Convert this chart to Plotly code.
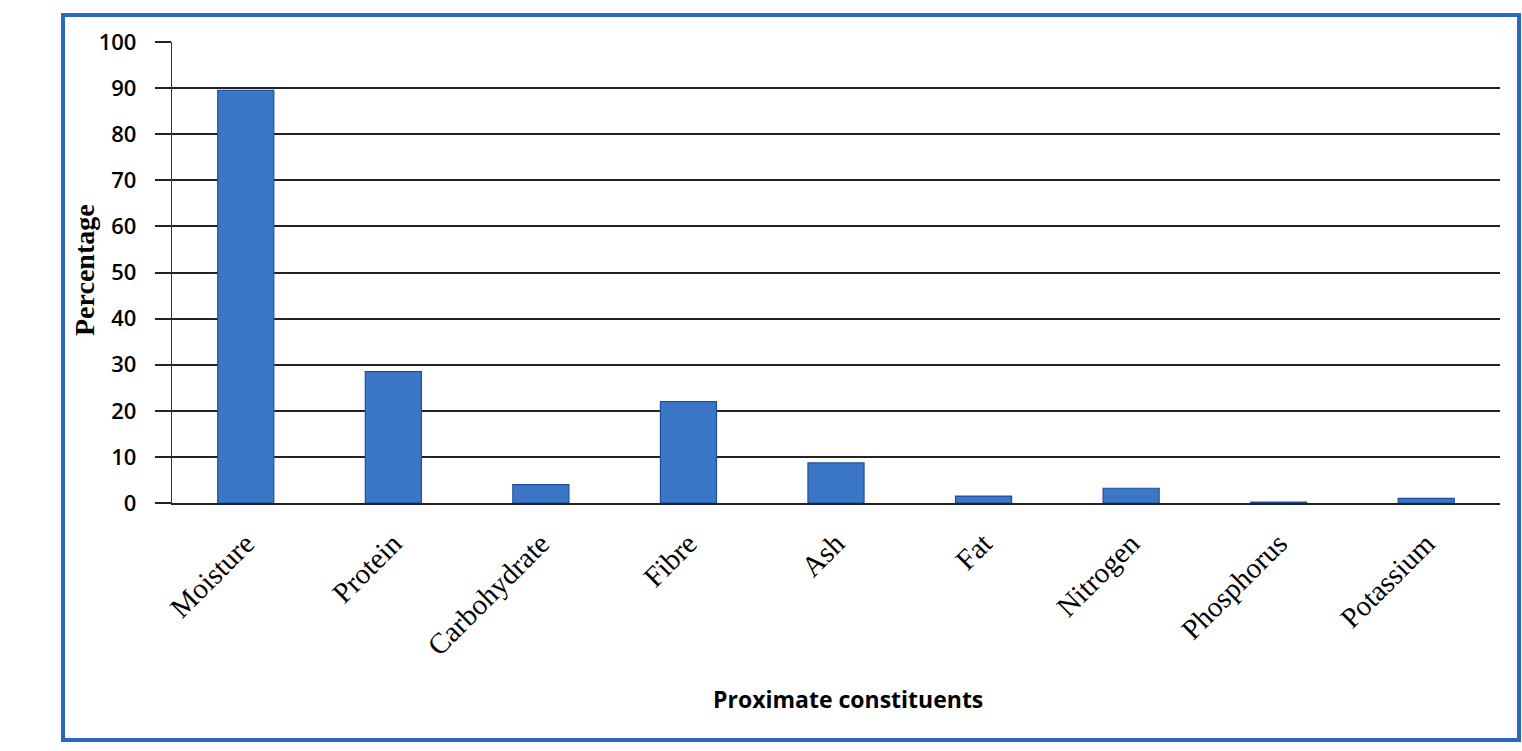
import plotly.graph_objects as go

# Proximate composition (%)
constituents = ["Moisture", "Protein", "Carbohydrate", "Fibre", "Ash",
                "Fat", "Nitrogen", "Phosphorus", "Potassium"]
percentages = [89.5, 28.5, 4.0, 22.0, 8.7, 1.5, 3.2, 0.2, 1.0]
y_ticks = [0, 10, 20, 30, 40, 50, 60, 70, 80, 90, 100]

W, H = 1522, 751
L, R, T, B = 172, 22, 42, 248
pw, ph = W - L - R, H - T - B


def px_x(x):
    return (x - L) / pw


def px_y(y):
    return 1 - (y - T) / ph


fig = go.Figure(
    go.Bar(
        x=constituents,
        y=percentages,
        width=0.38,
        marker=dict(color="#3b77c6", line=dict(color="#1e4f9c", width=1.2)),
    )
)

fig.update_layout(
    width=W,
    height=H,
    margin=dict(l=L, r=R, t=T, b=B),
    paper_bgcolor="white",
    plot_bgcolor="white",
    showlegend=False,
    xaxis=dict(
        tickangle=-45,
        tickfont=dict(family="Liberation Serif, Times New Roman, serif", size=29, color="black"),
        showgrid=False,
        showline=True,
        linecolor="#222",
        linewidth=2,
        ticks="",
        ticklabelstandoff=10,
    ),
    yaxis=dict(
        range=[0, 100],
        tickvals=y_ticks,
        tickfont=dict(family="Open Sans, Liberation Sans, sans-serif", size=22,
                      color="black", weight=600),
        showgrid=True,
        gridcolor="#222",
        gridwidth=1.8,
        zeroline=False,
        showline=True,
        linecolor="#333",
        linewidth=1.4,
        ticks="outside",
        ticklen=16,
        tickwidth=1.8,
        tickcolor="#222",
        ticklabelstandoff=14,
    ),
    annotations=[
        dict(
            text="<b>Percentage</b>",
            xref="paper", yref="paper",
            x=px_x(84), y=px_y(270),
            xanchor="center", yanchor="middle",
            textangle=-90, showarrow=False,
            font=dict(family="Liberation Serif, Times New Roman, serif", size=28, color="black"),
        ),
        dict(
            text="<b>Proximate constituents</b>",
            xref="paper", yref="paper",
            x=px_x(848), y=px_y(699),
            xanchor="center", yanchor="middle",
            showarrow=False,
            font=dict(family="Open Sans, Liberation Sans, sans-serif", size=23, color="black"),
        ),
    ],
    shapes=[
        dict(
            type="rect", xref="paper", yref="paper",
            x0=px_x(63), x1=px_x(1519), y0=px_y(740), y1=px_y(15),
            line=dict(color="#2c66bf", width=4),
            layer="below",
        )
    ],
)

fig.write_html("out.html")
